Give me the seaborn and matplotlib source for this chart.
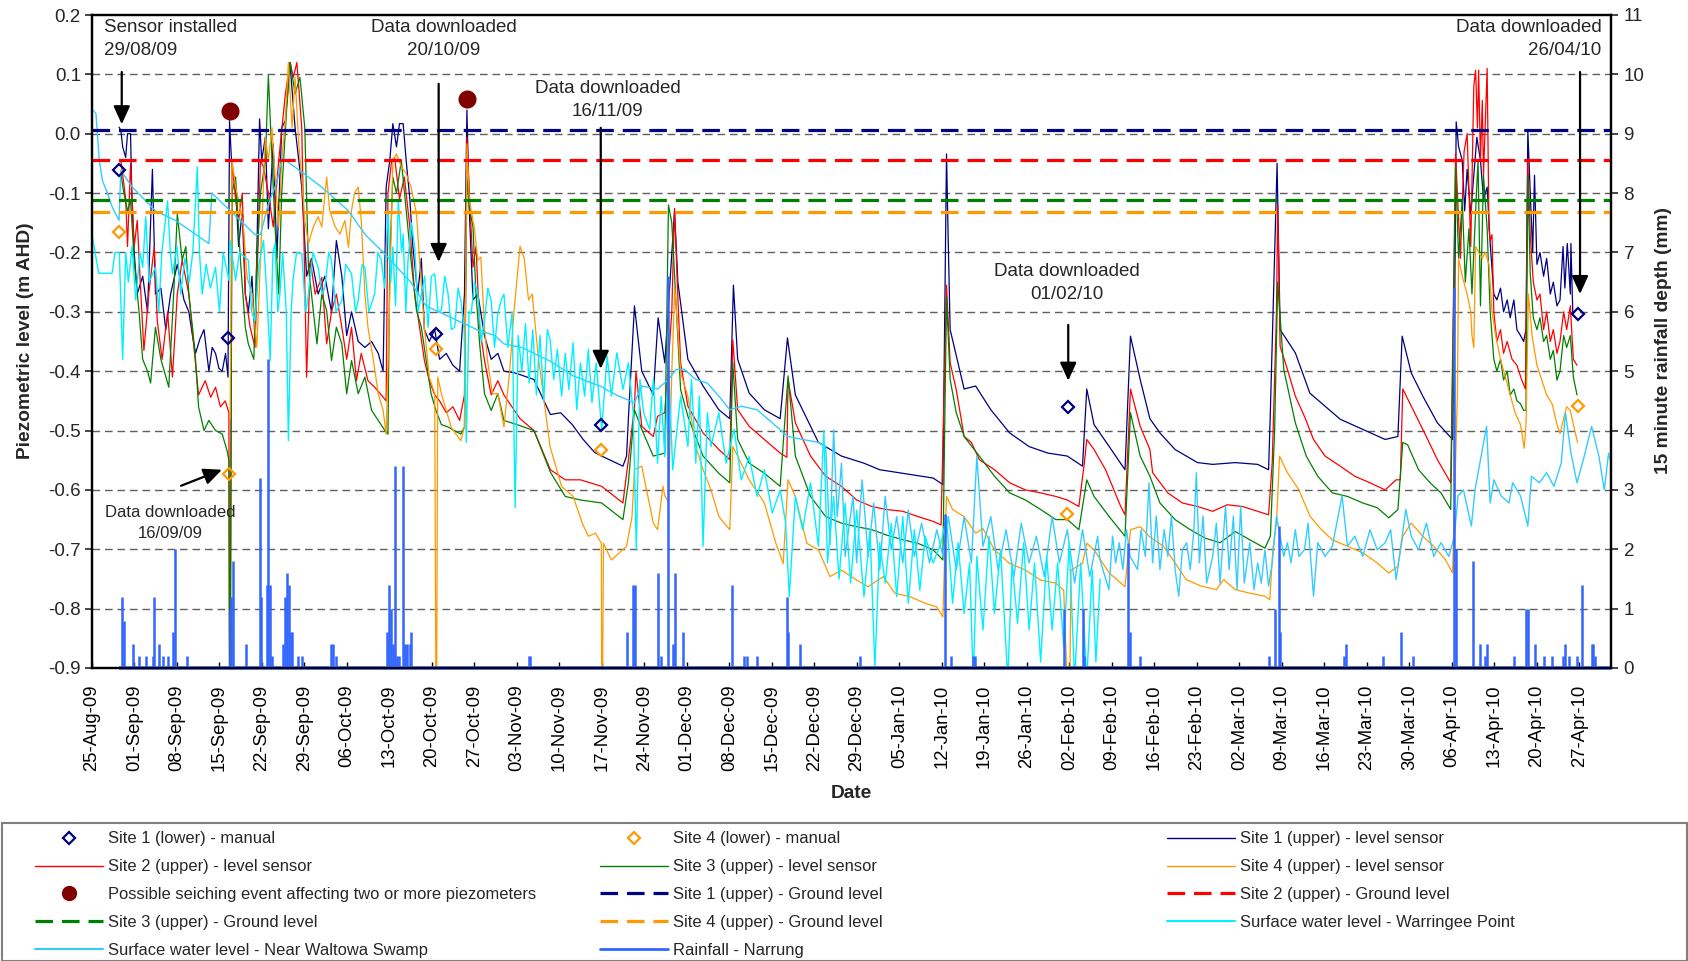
import numpy as np
import pandas as pd
import matplotlib
matplotlib.use("Agg")
import matplotlib.pyplot as plt
import matplotlib.dates as mdates
from matplotlib.lines import Line2D
from matplotlib.patches import Rectangle
import seaborn as sns

# ---------------- data (day offsets from 25-Aug-2009, level in m AHD) ----------------
START = "2009-08-25"

site1_upper = [(4.45,0.011),(4.75,0.006),(5.05,-0.022),(5.55,-0.04),(5.85,0.0),(6.35,0.0),(6.55,-0.1),(6.95,-0.2),(7.45,-0.27),(8.35,-0.24),(9.15,-0.30),(9.95,-0.06),(10.45,-0.27),(11.35,-0.26),(12.15,-0.33),(12.95,-0.27),(14.05,-0.22),(15.15,-0.28),(15.95,-0.30),(16.55,-0.34),(17.05,-0.37),(17.8,-0.345),(18.45,-0.33),(19.25,-0.40),(19.8,-0.36),(20.35,-0.37),(20.9,-0.395),(21.45,-0.40),(22.0,-0.37),(22.4,-0.41),(22.65,0.022),(23.0,-0.05),(23.65,-0.09),(24.15,-0.19),(24.75,-0.13),(25.25,-0.27),(25.75,-0.30),(26.35,-0.24),(26.85,-0.35),(27.6,0.025),(27.95,-0.045),(28.55,-0.006),(29.05,-0.16),(29.85,-0.017),(30.45,-0.21),(31.25,0.01),(31.85,0.022),(32.6,0.12),(33.45,0.01),(34.55,-0.09),(35.35,-0.24),(36.15,-0.21),(37.25,-0.27),(38.35,-0.24),(39.45,-0.30),(40.25,-0.18),(41.15,-0.24),(41.95,-0.34),(42.75,-0.30),(43.85,-0.35),(44.95,-0.36),(46.05,-0.35),(47.15,-0.37),(47.95,-0.40),(48.45,-0.09),(49.05,-0.045),(49.55,0.017),(50.15,-0.022),(50.65,0.017),(51.25,0.017),(51.75,-0.045),(52.35,-0.11),(52.85,-0.19),(53.65,-0.27),(54.25,-0.21),(54.75,-0.33),(55.55,-0.35),(56.45,-0.33),(57.25,-0.38),(58.35,-0.37),(59.45,-0.39),(60.55,-0.40),(61.35,-0.27),(61.75,0.04),(62.15,-0.13),(62.75,-0.28),(63.55,-0.27),(64.65,-0.34),(65.75,-0.38),(66.85,-0.37),(67.85,-0.40),(69.7,-0.403),(72.8,-0.414),(75.5,-0.473),(77.2,-0.47),(79.1,-0.49),(80.9,-0.515),(82.8,-0.537),(83.95,-0.543),(87.45,-0.56),(88.05,-0.543),(88.35,-0.48),(89.35,-0.29),(90.55,-0.40),(92.45,-0.44),(93.25,-0.31),(94.35,-0.386),(95.5,-0.2),(95.95,-0.13),(96.5,-0.25),(98.15,-0.38),(100.65,-0.425),(103.25,-0.465),(105.05,-0.48),(105.65,-0.255),(106.35,-0.38),(108.25,-0.437),(110.75,-0.465),(113.35,-0.48),(114.55,-0.344),(115.85,-0.44),(119.65,-0.52),(123.45,-0.543),(127.15,-0.555),(129.75,-0.566),(133.55,-0.572),(138.55,-0.58),(140.15,-0.591),(140.75,-0.034),(141.05,-0.19),(141.35,-0.33),(143.65,-0.43),(145.55,-0.425),(148.05,-0.465),(151.15,-0.504),(154.35,-0.527),(157.45,-0.538),(160.65,-0.543),(163.15,-0.56),(163.85,-0.43),(165.05,-0.49),(167.55,-0.527),(170.15,-0.566),(171.05,-0.341),(172.65,-0.414),(174.25,-0.48),(175.9,-0.504),(178.4,-0.532),(182.1,-0.554),(184.6,-0.557),(188.3,-0.554),(192.0,-0.557),(193.8,-0.566),(194.1,-0.465),(195.2,-0.05),(195.7,-0.33),(198.2,-0.369),(200.6,-0.437),(203.1,-0.459),(205.6,-0.481),(209.3,-0.498),(213.0,-0.515),(215.1,-0.51),(215.8,-0.341),(217.3,-0.403),(219.2,-0.442),(221.6,-0.487),(224.1,-0.515),(224.4,-0.36),(224.7,0.02),(225.1,-0.022),(225.7,-0.045),(226.1,-0.13),(226.5,-0.06),(227.1,-0.135),(227.6,-0.07),(228.1,-0.006),(228.7,-0.045),(229.2,-0.11),(229.8,-0.09),(230.3,-0.185),(230.9,-0.27),(231.4,-0.28),(232.0,-0.26),(232.5,-0.30),(233.1,-0.28),(233.6,-0.31),(234.2,-0.28),(234.7,-0.33),(235.3,-0.34),(235.8,-0.35),(236.2,-0.33),(236.5,0.006),(236.9,-0.10),(237.3,-0.20),(237.6,-0.07),(238.0,-0.22),(238.5,-0.20),(239.1,-0.24),(239.6,-0.21),(240.2,-0.27),(240.7,-0.25),(241.3,-0.29),(241.8,-0.28),(242.3,-0.19),(242.6,-0.26),(243.0,-0.185),(243.5,-0.27),(243.6,-0.185),(243.9,-0.30)]

site2_upper = [(4.75,-0.045),(5.55,-0.11),(5.85,-0.19),(6.35,-0.05),(6.95,-0.19),(7.45,-0.146),(8.05,-0.27),(8.55,-0.365),(9.35,-0.27),(10.25,-0.19),(10.75,-0.315),(11.55,-0.38),(12.45,-0.30),(13.25,-0.41),(14.05,-0.27),(14.85,-0.213),(15.95,-0.27),(16.75,-0.355),(17.55,-0.44),(18.65,-0.416),(19.55,-0.444),(20.35,-0.427),(21.15,-0.46),(21.95,-0.45),(22.55,-0.47),(22.67,-1.0),(22.75,-1.0),(23.05,-0.045),(23.65,-0.11),(24.15,-0.146),(24.75,-0.10),(25.25,-0.27),(26.05,-0.326),(26.85,-0.36),(27.75,-0.045),(28.25,-0.056),(29.05,-0.10),(29.85,-0.157),(30.75,-0.045),(31.85,0.067),(32.65,0.12),(33.15,0.095),(33.75,0.12),(34.55,0.01),(35.35,-0.41),(35.95,-0.213),(36.75,-0.27),(37.85,-0.242),(38.65,-0.354),(39.45,-0.30),(40.25,-0.27),(41.15,-0.326),(41.95,-0.38),(42.75,-0.326),(43.55,-0.416),(44.35,-0.37),(45.45,-0.416),(46.55,-0.427),(47.65,-0.44),(48.45,-0.45),(48.75,-0.1),(49.35,-0.045),(49.85,-0.04),(50.65,-0.11),(51.45,-0.073),(52.35,-0.157),(53.15,-0.27),(53.95,-0.326),(54.75,-0.382),(55.55,-0.416),(56.45,-0.44),(57.25,-0.45),(58.35,-0.47),(59.45,-0.46),(60.55,-0.483),(61.35,-0.44),(61.75,-0.006),(62.15,-0.1),(62.75,-0.225),(63.25,-0.19),(63.85,-0.326),(64.65,-0.382),(65.75,-0.44),(66.85,-0.416),(67.85,-0.44),(70.5,-0.48),(72.8,-0.50),(75.5,-0.566),(77.95,-0.583),(80.45,-0.583),(83.95,-0.594),(87.45,-0.622),(88.35,-0.549),(89.35,-0.459),(89.6,-0.40),(90.55,-0.493),(92.45,-0.51),(93.15,-0.476),(94.35,-0.47),(95.5,-0.3),(95.95,-0.126),(96.4,-0.25),(96.95,-0.386),(98.15,-0.459),(100.65,-0.504),(103.25,-0.532),(105.05,-0.549),(105.55,-0.347),(106.35,-0.465),(108.25,-0.493),(110.75,-0.515),(113.35,-0.538),(114.45,-0.545),(114.65,-0.414),(115.85,-0.487),(118.35,-0.543),(120.85,-0.577),(123.45,-0.594),(125.95,-0.617),(128.45,-0.628),(130.85,-0.633),(133.55,-0.636),(136.05,-0.645),(138.55,-0.653),(139.85,-0.659),(140.75,-0.255),(141.35,-0.386),(142.35,-0.431),(143.65,-0.51),(144.85,-0.52),(146.15,-0.549),(148.65,-0.566),(151.15,-0.588),(153.75,-0.6),(156.25,-0.605),(158.75,-0.611),(160.65,-0.617),(162.55,-0.628),(163.45,-0.555),(163.85,-0.515),(165.05,-0.532),(166.95,-0.566),(169.45,-0.628),(170.15,-0.642),(171.05,-0.43),(172.65,-0.493),(174.25,-0.532),(174.7,-0.571),(177.2,-0.605),(179.6,-0.622),(182.1,-0.628),(184.6,-0.636),(187.0,-0.625),(189.5,-0.628),(192.0,-0.636),(193.8,-0.642),(194.4,-0.554),(195.1,-0.3),(195.3,-0.12),(195.7,-0.358),(196.9,-0.397),(198.2,-0.442),(199.7,-0.476),(201.2,-0.515),(203.1,-0.543),(205.6,-0.56),(208.0,-0.577),(210.5,-0.588),(213.0,-0.6),(214.8,-0.583),(215.5,-0.583),(215.9,-0.43),(217.3,-0.459),(219.2,-0.498),(221.6,-0.549),(223.8,-0.588),(224.6,-0.034),(225.4,-0.21),(226.0,-0.03),(226.5,0.0),(227.1,-0.19),(227.6,0.08),(227.9,0.107),(228.2,0.01),(228.4,0.107),(228.7,-0.045),(229.0,0.056),(229.2,-0.07),(229.8,0.11),(230.1,-0.16),(230.3,-0.18),(230.6,-0.17),(230.9,-0.30),(231.4,-0.35),(232.0,-0.33),(232.5,-0.37),(233.1,-0.35),(233.9,-0.38),(234.7,-0.39),(235.5,-0.415),(236.1,-0.43),(236.5,-0.045),(236.9,-0.17),(237.4,-0.25),(238.0,-0.28),(238.5,-0.27),(239.1,-0.33),(239.6,-0.30),(240.2,-0.35),(240.7,-0.33),(241.3,-0.37),(241.8,-0.35),(242.4,-0.30),(242.9,-0.33),(243.5,-0.29),(244.0,-0.38),(244.6,-0.39)]

site3_upper = [(4.75,-0.067),(5.25,-0.1),(5.85,-0.13),(6.35,-0.112),(6.95,-0.213),(7.75,-0.30),(8.35,-0.38),(9.15,-0.40),(9.65,-0.42),(10.45,-0.326),(11.35,-0.38),(12.65,-0.427),(13.45,-0.27),(14.05,-0.135),(14.85,-0.213),(15.45,-0.19),(15.95,-0.27),(16.55,-0.326),(17.05,-0.38),(17.55,-0.46),(18.45,-0.5),(19.25,-0.483),(20.35,-0.5),(21.45,-0.506),(22.25,-0.534),(22.55,-0.55),(22.67,-1.0),(22.75,-1.0),(23.05,-0.1),(23.65,-0.073),(24.45,-0.213),(25.25,-0.326),(25.75,-0.354),(26.65,-0.38),(27.15,-0.213),(27.75,-0.1),(28.55,-0.045),(29.05,0.098),(29.65,-0.045),(30.15,-0.157),(30.75,-0.27),(31.25,-0.1),(32.05,0.04),(32.65,0.12),(33.45,0.067),(34.25,0.095),(35.05,0.01),(35.65,-0.225),(36.15,-0.27),(37.05,-0.354),(37.85,-0.27),(38.65,-0.298),(39.45,-0.382),(40.25,-0.326),(41.15,-0.354),(41.95,-0.438),(42.75,-0.382),(43.85,-0.438),(44.95,-0.41),(46.05,-0.466),(47.15,-0.483),(48.25,-0.5),(48.75,-0.506),(49.05,-0.213),(49.55,-0.073),(50.15,-0.1),(50.95,-0.045),(51.75,-0.129),(52.55,-0.213),(53.45,-0.298),(54.25,-0.326),(55.05,-0.382),(55.85,-0.438),(56.65,-0.466),(57.55,-0.49),(58.65,-0.494),(59.65,-0.5),(60.75,-0.506),(61.35,-0.494),(61.75,-0.073),(62.15,-0.124),(62.75,-0.157),(63.25,-0.27),(63.85,-0.354),(64.65,-0.438),(65.75,-0.466),(66.85,-0.438),(67.85,-0.483),(70.0,-0.49),(72.8,-0.5),(75.5,-0.57),(77.95,-0.611),(80.45,-0.617),(83.95,-0.622),(87.45,-0.65),(88.35,-0.588),(89.35,-0.465),(90.55,-0.498),(92.45,-0.543),(94.35,-0.538),(94.95,-0.12),(95.5,-0.15),(96.95,-0.431),(98.15,-0.476),(100.65,-0.543),(103.25,-0.572),(105.05,-0.588),(105.55,-0.386),(106.35,-0.515),(108.25,-0.555),(110.75,-0.572),(113.35,-0.594),(114.65,-0.408),(115.85,-0.543),(118.35,-0.611),(120.85,-0.645),(123.45,-0.656),(125.95,-0.662),(128.45,-0.667),(130.85,-0.676),(133.55,-0.684),(136.05,-0.69),(138.55,-0.701),(140.15,-0.718),(140.75,-0.274),(141.35,-0.414),(142.35,-0.47),(143.65,-0.51),(146.15,-0.543),(148.65,-0.577),(151.15,-0.605),(153.75,-0.617),(156.25,-0.633),(158.75,-0.65),(160.65,-0.65),(162.55,-0.667),(163.85,-0.583),(165.05,-0.611),(167.55,-0.645),(170.15,-0.678),(171.05,-0.47),(172.65,-0.543),(174.25,-0.577),(175.9,-0.622),(178.4,-0.65),(180.9,-0.667),(183.3,-0.681),(185.8,-0.689),(188.3,-0.67),(190.7,-0.684),(193.2,-0.698),(194.1,-0.678),(194.8,-0.498),(195.3,-0.25),(196.3,-0.397),(198.2,-0.487),(200.0,-0.543),(201.9,-0.577),(204.3,-0.605),(206.8,-0.611),(209.3,-0.622),(211.7,-0.63),(213.6,-0.647),(215.1,-0.633),(215.9,-0.52),(216.7,-0.524),(218.5,-0.566),(220.4,-0.588),(222.2,-0.605),(223.8,-0.633),(224.6,-0.056),(225.1,-0.21),(225.7,-0.11),(226.2,-0.25),(226.8,-0.16),(227.3,-0.27),(227.9,-0.13),(228.3,-0.045),(228.7,-0.29),(229.2,-0.07),(229.8,-0.16),(230.3,-0.30),(230.9,-0.38),(231.4,-0.40),(232.0,-0.38),(232.5,-0.415),(233.1,-0.40),(233.6,-0.44),(234.2,-0.43),(234.7,-0.45),(235.3,-0.455),(235.8,-0.466),(236.2,-0.466),(236.5,-0.07),(236.9,-0.236),(237.4,-0.31),(238.0,-0.33),(238.5,-0.31),(239.1,-0.35),(239.6,-0.34),(240.2,-0.38),(240.7,-0.365),(241.3,-0.415),(241.8,-0.40),(242.4,-0.34),(242.9,-0.36),(243.5,-0.34),(244.0,-0.41),(244.6,-0.44)]

site4_upper = [(22.75,-0.48),(23.05,-0.045),(23.65,-0.09),(24.15,-0.112),(24.95,-0.157),(25.55,-0.242),(26.35,-0.27),(27.15,-0.36),(27.75,-0.213),(28.55,-0.006),(29.05,-0.045),(29.65,0.01),(30.15,-0.073),(30.75,-0.157),(31.25,-0.045),(31.85,0.022),(32.35,0.12),(32.95,0.01),(33.45,0.095),(34.05,-0.017),(34.55,-0.073),(35.05,-0.146),(35.65,-0.185),(36.45,-0.157),(37.25,-0.14),(37.85,-0.157),(38.65,-0.073),(39.15,-0.129),(40.05,-0.157),(40.85,-0.169),(41.65,-0.146),(42.25,-0.191),(42.75,-0.129),(43.25,-0.1),(43.85,-0.09),(44.35,-0.146),(44.95,-0.27),(45.45,-0.326),(46.35,-0.382),(47.15,-0.438),(47.95,-0.466),(48.45,-0.506),(49.05,-0.27),(49.55,-0.045),(50.15,-0.034),(50.95,-0.056),(51.75,-0.067),(52.55,-0.09),(53.45,-0.135),(53.95,-0.213),(54.75,-0.326),(55.55,-0.41),(56.45,-0.438),(56.67,-1.0),(56.75,-1.0),(56.95,-0.41),(57.55,-0.438),(58.35,-0.466),(59.15,-0.494),(59.95,-0.506),(60.75,-0.517),(61.35,-0.494),(61.75,-0.017),(62.15,-0.112),(62.95,-0.157),(63.55,-0.213),(64.05,-0.208),(64.65,-0.326),(65.15,-0.382),(65.95,-0.438),(66.85,-0.438),(67.85,-0.494),(68.8,-0.40),(69.5,-0.30),(70.5,-0.19),(71.2,-0.21),(71.9,-0.28),(72.5,-0.27),(73.5,-0.375),(75.45,-0.527),(77.35,-0.594),(79.25,-0.611),(80.75,-0.656),(81.75,-0.678),(82.95,-0.673),(83.9,-0.69),(83.97,-1.0),(84.05,-1.0),(84.25,-0.69),(85.55,-0.718),(86.75,-0.707),(88.05,-0.695),(88.95,-0.645),(89.35,-0.566),(90.55,-0.56),(92.45,-0.656),(93.15,-0.667),(94.05,-0.594),(94.35,-0.61),(94.95,-0.62),(95.5,-0.40),(96.0,-0.26),(96.5,-0.33),(96.95,-0.403),(98.15,-0.442),(99.45,-0.527),(100.65,-0.566),(101.95,-0.6),(103.25,-0.645),(105.05,-0.667),(105.55,-0.527),(106.35,-0.543),(108.25,-0.583),(110.75,-0.622),(112.65,-0.69),(113.85,-0.724),(114.65,-0.583),(115.85,-0.611),(117.75,-0.69),(119.65,-0.701),(121.55,-0.746),(123.45,-0.735),(125.95,-0.752),(127.85,-0.763),(130.35,-0.746),(132.25,-0.774),(134.75,-0.78),(137.25,-0.791),(139.15,-0.797),(140.15,-0.814),(140.75,-0.611),(141.75,-0.633),(143.65,-0.645),(145.55,-0.673),(146.75,-0.665),(148.65,-0.701),(151.15,-0.724),(153.75,-0.735),(156.25,-0.752),(158.75,-0.757),(160.05,-0.769),(160.9,-1.0),(161.0,-1.0),(161.25,-0.735),(163.15,-0.724),(163.85,-0.69),(165.05,-0.701),(167.55,-0.74),(170.15,-0.763),(171.05,-0.667),(172.65,-0.662),(174.1,-0.678),(176.5,-0.695),(178.4,-0.723),(180.2,-0.751),(182.7,-0.762),(185.2,-0.768),(186.4,-0.751),(188.3,-0.768),(190.7,-0.774),(193.2,-0.779),(194.0,-0.785),(194.5,-0.70),(195.1,-0.656),(195.6,-0.543),(196.9,-0.571),(198.8,-0.6),(200.6,-0.644),(202.5,-0.667),(204.3,-0.684),(206.8,-0.695),(209.3,-0.706),(211.7,-0.723),(213.6,-0.74),(215.1,-0.729),(215.9,-0.678),(217.3,-0.656),(219.2,-0.678),(221.0,-0.695),(222.9,-0.717),(224.1,-0.74),(224.9,-0.44),(225.1,-0.21),(225.7,-0.24),(226.5,-0.27),(227.1,-0.30),(227.3,-0.34),(227.6,-0.36),(227.9,-0.19),(228.4,-0.20),(229.0,-0.21),(229.5,-0.20),(230.1,-0.22),(230.6,-0.30),(231.2,-0.34),(232.0,-0.38),(232.8,-0.41),(233.6,-0.44),(234.4,-0.47),(235.3,-0.49),(235.9,-0.53),(236.2,-0.49),(236.6,-0.27),(237.2,-0.34),(238.0,-0.39),(238.8,-0.415),(239.6,-0.44),(240.5,-0.455),(241.3,-0.49),(241.8,-0.505),(242.4,-0.48),(242.9,-0.46),(243.5,-0.466),(244.0,-0.49),(244.7,-0.52)]

waltowa_swamp = [(0.0,0.042),(0.65,0.034),(1.2,-0.045),(1.75,-0.08),(2.55,-0.1),(3.35,-0.124),(4.45,-0.146),(4.75,-0.062),(6.65,-0.09),(10.45,-0.13),(13.75,-0.146),(19.25,-0.185),(19.75,-0.1),(26.85,-0.17),(27.75,-0.17),(29.0,-0.12),(30.5,-0.08),(31.3,-0.04),(37.85,-0.09),(42.25,-0.13),(45.0,-0.17),(48.0,-0.2),(52.5,-0.25),(55.0,-0.29),(63.4,-0.33),(66.35,-0.34),(67.85,-0.354),(70.75,-0.36),(75.45,-0.383),(79.25,-0.408),(83.65,-0.425),(86.75,-0.442),(89.35,-0.453),(90.55,-0.425),(93.15,-0.43),(94.95,-0.414),(96.25,-0.397),(97.55,-0.397),(99.45,-0.414),(101.35,-0.42),(103.25,-0.442),(105.05,-0.465),(106.95,-0.459),(109.55,-0.465),(112.05,-0.487),(114.65,-0.51),(117.05,-0.515),(119.65,-0.52),(120.85,-0.527),(121.55,-0.693),(122.15,-0.499),(122.75,-0.645),(123.45,-0.555),(124.05,-0.712),(125.35,-0.611),(125.95,-0.723),(126.85,-0.583),(127.85,-0.712),(128.75,-0.622),(129.75,-0.735),(130.65,-0.611),(131.65,-0.701),(132.55,-0.645),(133.55,-0.723),(134.45,-0.634),(135.45,-0.712),(136.65,-0.656),(137.95,-0.723),(139.15,-0.667),(140.15,-0.712),(141.05,-0.645),(142.35,-0.735),(143.65,-0.645),(144.85,-0.723),(145.75,-0.543),(146.75,-0.695),(148.05,-0.645),(149.25,-0.735),(150.55,-0.667),(151.85,-0.746),(153.05,-0.656),(154.35,-0.723),(155.55,-0.678),(156.85,-0.746),(158.15,-0.645),(159.35,-0.723),(160.65,-0.667),(161.85,-0.757),(163.15,-0.667),(164.35,-0.746),(165.65,-0.678),(166.0,-0.717),(167.5,-0.768),(168.1,-0.678),(168.6,-0.723),(169.2,-0.689),(169.8,-0.734),(170.4,-0.667),(171.0,-0.712),(172.2,-0.734),(172.8,-0.667),(173.5,-0.712),(174.1,-0.588),(174.7,-0.723),(175.3,-0.644),(175.9,-0.734),(176.6,-0.667),(177.2,-0.712),(177.8,-0.644),(178.4,-0.734),(179.0,-0.779),(179.6,-0.701),(180.3,-0.689),(180.9,-0.734),(181.5,-0.667),(181.9,-0.571),(182.4,-0.723),(183.0,-0.644),(183.6,-0.757),(184.6,-0.712),(185.2,-0.656),(185.8,-0.757),(186.7,-0.628),(187.3,-0.734),(188.0,-0.644),(188.6,-0.768),(189.2,-0.628),(189.8,-0.757),(190.7,-0.689),(191.4,-0.768),(192.0,-0.723),(192.6,-0.757),(193.2,-0.701),(193.8,-0.762),(194.4,-0.723),(195.1,-0.644),(195.7,-0.678),(196.3,-0.712),(196.9,-0.689),(197.5,-0.723),(198.2,-0.667),(198.8,-0.712),(199.7,-0.701),(200.3,-0.656),(201.2,-0.779),(201.9,-0.689),(203.1,-0.712),(204.3,-0.695),(205.9,-0.61),(206.8,-0.695),(208.0,-0.678),(209.3,-0.712),(210.5,-0.667),(211.7,-0.701),(213.0,-0.689),(213.9,-0.667),(214.8,-0.751),(215.5,-0.701),(216.4,-0.633),(217.3,-0.678),(218.5,-0.701),(219.8,-0.656),(221.0,-0.712),(222.2,-0.689),(223.5,-0.712),(224.4,-0.678),(225.0,-0.61),(225.9,-0.6),(227.2,-0.661),(227.8,-0.6),(229.0,-0.532),(229.7,-0.493),(230.3,-0.622),(230.9,-0.583),(232.1,-0.61),(233.4,-0.622),(234.0,-0.588),(235.3,-0.61),(236.5,-0.661),(237.1,-0.577),(238.4,-0.588),(239.6,-0.571),(240.8,-0.594),(242.0,-0.555),(242.7,-0.47),(243.6,-0.538),(244.6,-0.588),(245.8,-0.543),(247.0,-0.493),(248.2,-0.543),(249.1,-0.6),(249.8,-0.538),(250.5,-0.566)]

warringee_point = [(0.0,-0.17),(1.1,-0.235),(3.3,-0.235),(3.8,-0.2),(4.5,-0.2),(5.05,-0.38),(5.55,-0.2),(6.0,-0.25),(6.6,-0.19),(7.2,-0.28),(7.9,-0.2),(8.35,-0.225),(8.85,-0.14),(9.4,-0.25),(10.45,-0.225),(11.0,-0.3),(11.5,-0.2),(12.45,-0.113),(12.9,-0.2),(13.25,-0.236),(14.0,-0.19),(14.6,-0.27),(15.3,-0.21),(16.0,-0.25),(16.6,-0.2),(17.35,-0.056),(17.7,-0.2),(18.15,-0.27),(18.8,-0.22),(19.5,-0.26),(20.35,-0.225),(21.0,-0.3),(21.6,-0.2),(22.55,-0.247),(22.75,-0.18),(23.65,-0.247),(24.3,-0.2),(25.75,-0.213),(26.3,-0.3),(26.85,-0.315),(27.5,-0.22),(28.25,-0.18),(28.8,-0.27),(29.35,-0.382),(29.8,-0.2),(30.15,-0.185),(30.6,-0.3),(30.95,-0.27),(31.4,-0.2),(32.0,-0.3),(32.35,-0.517),(32.8,-0.3),(33.15,-0.242),(33.7,-0.2),(34.55,-0.202),(35.2,-0.3),(35.65,-0.27),(36.4,-0.2),(37.25,-0.225),(37.9,-0.27),(38.35,-0.259),(39.0,-0.2),(39.45,-0.213),(40.2,-0.3),(41.15,-0.281),(41.8,-0.22),(42.75,-0.236),(43.4,-0.3),(43.85,-0.281),(44.5,-0.22),(44.95,-0.225),(45.6,-0.3),(46.55,-0.27),(47.1,-0.2),(47.65,-0.213),(48.2,-0.26),(48.75,-0.13),(49.2,-0.25),(49.55,-0.191),(50.0,-0.29),(50.45,-0.112),(51.0,-0.2),(51.25,-0.169),(51.7,-0.3),(52.05,-0.213),(52.6,-0.15),(53.15,-0.191),(53.7,-0.3),(54.25,-0.27),(54.8,-0.24),(55.35,-0.326),(55.9,-0.24),(56.45,-0.236),(57.0,-0.3),(57.55,-0.298),(58.1,-0.24),(58.65,-0.27),(59.2,-0.33),(59.75,-0.326),(60.3,-0.26),(60.75,-0.281),(61.3,-0.33),(61.65,-0.52),(62.1,-0.3),(62.45,-0.303),(63.0,-0.25),(63.55,-0.27),(64.1,-0.35),(64.65,-0.315),(65.2,-0.26),(65.75,-0.281),(66.3,-0.36),(66.85,-0.303),(67.4,-0.28),(67.85,-0.27),(68.5,-0.36),(69.2,-0.30),(69.7,-0.63),(70.2,-0.34),(70.8,-0.40),(71.4,-0.32),(72.0,-0.42),(72.6,-0.33),(73.2,-0.44),(73.8,-0.34),(74.4,-0.45),(75.0,-0.33),(75.45,-0.347),(76.05,-0.414),(76.65,-0.363),(77.35,-0.442),(77.95,-0.37),(78.55,-0.431),(79.25,-0.352),(79.85,-0.465),(80.45,-0.386),(81.15,-0.442),(81.75,-0.363),(82.35,-0.453),(83.05,-0.386),(83.95,-0.498),(84.85,-0.375),(85.55,-0.442),(86.45,-0.369),(87.45,-0.431),(88.35,-0.386),(89.15,-0.47),(89.65,-0.70),(90.25,-0.414),(90.85,-0.47),(91.85,-0.498),(92.45,-0.414),(93.15,-0.555),(93.75,-0.442),(94.35,-0.544),(94.95,-0.386),(95.65,-0.566),(96.95,-0.442),(98.15,-0.527),(98.75,-0.414),(99.45,-0.555),(100.05,-0.442),(100.65,-0.695),(101.35,-0.47),(101.95,-0.527),(103.25,-0.47),(104.45,-0.555),(105.75,-0.498),(106.95,-0.583),(108.25,-0.544),(109.55,-0.611),(110.75,-0.566),(112.05,-0.639),(113.35,-0.6),(114.25,-0.656),(114.85,-0.78),(115.85,-0.611),(117.05,-0.667),(118.35,-0.588),(119.65,-0.695),(120.55,-0.5),(121.15,-0.723),(122.15,-0.611),(123.05,-0.75),(124.05,-0.622),(124.95,-0.757),(125.95,-0.634),(127.15,-0.78),(128.15,-0.667),(128.95,-0.90),(129.75,-0.689),(130.65,-0.757),(131.65,-0.656),(132.55,-0.78),(133.55,-0.645),(134.45,-0.791),(135.45,-0.667),(136.35,-0.769),(137.25,-0.678),(138.55,-0.723),(139.85,-0.689),(140.75,-0.645),(141.75,-0.791),(142.65,-0.689),(143.65,-0.808),(144.55,-0.723),(145.15,-0.92),(145.75,-0.712),(146.75,-0.836),(147.75,-0.678),(148.65,-0.808),(149.65,-0.701),(150.85,-0.92),(151.55,-0.723),(152.45,-0.825),(153.45,-0.689),(154.35,-0.836),(155.25,-0.723),(156.25,-0.89),(157.25,-0.712),(158.15,-0.836),(159.05,-0.723),(160.05,-0.864),(160.95,-0.689),(161.85,-0.92),(162.85,-0.723),(163.85,-0.92),(164.75,-0.734),(165.35,-0.89),(166.05,-0.75)]

rainfall_narrung = [(4.9,1.2),(5.3,0.8),(6.7,0.4),(7.8,0.2),(8.9,0.2),(10.0,0.2),(10.2,1.2),(11.0,0.4),(11.7,0.2),(12.5,0.2),(13.3,0.6),(13.6,2.0),(15.7,0.2),(22.7,1.0),(22.9,1.2),(23.3,1.8),(25.3,0.4),(27.7,3.2),(27.9,1.2),(28.8,1.4),(29.0,5.2),(29.3,1.4),(29.6,0.2),(31.5,0.4),(31.8,1.2),(32.2,1.6),(32.5,1.4),(32.7,0.6),(33.0,0.6),(34.0,0.2),(34.6,0.2),(39.3,0.4),(39.7,0.4),(40.2,0.2),(48.6,0.6),(49.0,1.4),(49.2,1.0),(49.5,0.4),(49.9,3.4),(50.2,0.2),(50.6,0.2),(51.2,3.4),(51.5,0.4),(51.9,0.4),(52.3,0.4),(52.6,0.6),(71.9,0.2),(72.2,0.2),(88.05,0.6),(89.15,1.4),(89.45,1.4),(93.15,1.6),(93.75,0.2),(94.85,6.6),(95.75,0.4),(95.95,1.6),(97.35,0.6),(105.45,1.4),(107.45,0.2),(107.95,0.2),(109.55,0.2),(114.45,1.2),(114.65,0.6),(116.55,0.4),(126.55,0.2),(140.45,2.6),(141.55,0.2),(145.15,0.2),(145.45,0.2),(160.05,1.0),(163.15,1.0),(163.45,0.2),(170.7,2.1),(170.9,0.6),(172.7,0.2),(193.8,0.2),(194.8,1.0),(195.5,2.4),(195.7,0.6),(206.2,0.2),(206.5,0.4),(212.7,0.2),(215.6,0.6),(217.6,0.2),(224.4,6.4),(224.6,2.0),(227.5,1.8),(228.7,0.4),(229.4,0.2),(229.7,0.4),(234.3,0.2),(236.2,1.0),(236.5,1.0),(237.6,0.4),(239.2,0.2),(240.5,0.2),(242.3,0.2),(242.6,0.4),(243.2,0.2),(244.6,0.2),(245.4,1.4),(247.0,0.4),(247.3,0.4),(247.6,0.2)]
rainfall_span = [4.5, 250.2]

site1_manual = [(4.5,-0.061),(22.4,-0.344),(56.7,-0.338),(83.8,-0.49),(160.8,-0.461),(244.8,-0.304)]
site4_manual = [(4.5,-0.166),(22.6,-0.574),(56.7,-0.362),(83.8,-0.532),(160.6,-0.641),(244.8,-0.458)]
seiching_events = [(22.75,0.039),(61.75,0.059)]

ground_names = ["Site 1 (upper) - Ground level", "Site 2 (upper) - Ground level",
                "Site 3 (upper) - Ground level", "Site 4 (upper) - Ground level"]
ground_levels = [0.007, -0.045, -0.111, -0.132]

y_ticks = [0.2, 0.1, 0.0, -0.1, -0.2, -0.3, -0.4, -0.5, -0.6, -0.7, -0.8, -0.9]
rain_ticks = list(range(0, 12))

# ---------------- styling ----------------
C_S1, C_S2, C_S3, C_S4 = "#000080", "#FF0000", "#008000", "#FF9900"
C_WARR, C_WALT, C_RAIN, C_SEI = "#00F0FF", "#33CCFF", "#3366FF", "#800000"

sns.set_theme(style="white")
plt.rcParams["font.family"] = ["Liberation Sans", "DejaVu Sans"]
plt.rcParams["axes.unicode_minus"] = False

base = pd.Timestamp(START)
def dates(days):
    return base + pd.to_timedelta(np.asarray(days, dtype=float), unit="D")

def split(pairs):
    a = np.asarray(pairs, dtype=float)
    return a[:, 0], a[:, 1]

W, H = 1688, 961
fig = plt.figure(figsize=(W / 100, H / 100), dpi=100)
L, R, T, B = 92, 1611, 15, 668
ax = fig.add_axes([L / W, 1 - B / H, (R - L) / W, (B - T) / H])
ax2 = ax.twinx()

ax.set_ylim(-0.9, 0.2)
ax2.set_ylim(0, 11)
ax.set_xlim(dates([0.0])[0], dates([250.2])[0])

# grid
for yv in y_ticks[1:-1]:
    ax.axhline(yv, color="#606060", lw=1.0, ls=(0, (5.5, 3.5)), zorder=1)

# sensor lines
for pairs, col, z in [(site1_upper, C_S1, 2.2), (site2_upper, C_S2, 2.3),
                      (site3_upper, C_S3, 2.4), (site4_upper, C_S4, 2.5)]:
    d, v = split(pairs)
    sns.lineplot(x=dates(d), y=v, ax=ax, color=col, lw=0.9, sort=False,
                 estimator=None, legend=False, zorder=z)

for pairs, col, z in [(waltowa_swamp, C_WALT, 2.6), (warringee_point, C_WARR, 2.7)]:
    d, v = split(pairs)
    sns.lineplot(x=dates(d), y=v, ax=ax, color=col, lw=1.0, sort=False,
                 estimator=None, legend=False, zorder=z)

# ground levels
for lvl, col in zip(ground_levels, [C_S1, C_S2, C_S3, C_S4]):
    ax.axhline(lvl, color=col, lw=2.3, ls=(0, (5.5, 2.8)), zorder=3)

# manual readings & seiching
d, v = split(site1_manual)
ax.plot(dates(d), v, ls="none", marker="D", ms=6.5, mfc="none", mec=C_S1, mew=1.6, zorder=5)
d, v = split(site4_manual)
ax.plot(dates(d), v, ls="none", marker="D", ms=6.5, mfc="none", mec=C_S4, mew=1.6, zorder=5)
d, v = split(seiching_events)
ax.plot(dates(d), v, ls="none", marker="o", ms=12, color=C_SEI, zorder=5)

# rainfall on secondary axis
d, r = split(rainfall_narrung)
ax2.vlines(dates(d), 0, r, color=C_RAIN, lw=1.8)
ax2.plot(dates(rainfall_span), [0, 0], color=C_RAIN, lw=2.6, clip_on=False, solid_capstyle="butt")

# axes formatting
ax.set_yticks(y_ticks)
ax.yaxis.set_major_formatter(matplotlib.ticker.FormatStrFormatter("%.1f"))
ax2.set_yticks(rain_ticks)
xt = dates(np.arange(0, 246, 7))
ax.set_xticks(xt)
ax.xaxis.set_major_formatter(mdates.DateFormatter("%d-%b-%y"))
ax.tick_params(axis="x", direction="in", length=4, width=1, labelsize=13.3, pad=12,
               labelrotation=90, colors="black", bottom=True)
ax.tick_params(axis="y", direction="out", length=5, width=1.2, labelsize=13.5, pad=3, left=True)
ax2.tick_params(axis="y", direction="out", length=5, width=1.2, labelsize=13.5, pad=4, right=True)
for a in (ax, ax2):
    for s in a.spines.values():
        s.set_color("black")
        s.set_linewidth(1.6)
ax.set_xlabel("")
ax.set_ylabel("")
ax2.set_ylabel("")

fig.text(26 / W, 1 - 341 / H, "Piezometric level (m AHD)", rotation=90, ha="center",
         va="center", fontsize=13.8, fontweight="bold")
fig.text(1664 / W, 1 - 341 / H, "15 minute rainfall depth (mm)", rotation=90, ha="center",
         va="center", fontsize=13.8, fontweight="bold")
fig.text(851 / W, 1 - 793 / H, "Date", ha="center", va="center", fontsize=13.8, fontweight="bold")

# annotations
def arrow(day, y_tail, y_tip):
    x = dates([day])[0]
    ax.annotate("", xy=(x, y_tip), xytext=(x, y_tail),
                arrowprops=dict(arrowstyle="-|>,head_length=0.55,head_width=0.25",
                                color="black", lw=1.6, mutation_scale=20,
                                shrinkA=0, shrinkB=0), zorder=6)

arrow(4.9, 0.104, 0.016)
arrow(57.1, 0.084, -0.216)
arrow(83.8, 0.010, -0.396)
arrow(160.8, -0.322, -0.416)
arrow(245.1, 0.104, -0.27)
ax.annotate("", xy=(dates([21.4])[0], -0.566), xytext=(dates([14.67])[0], -0.593),
            arrowprops=dict(arrowstyle="-|>,head_length=0.55,head_width=0.25", color="black",
                            lw=1.6, mutation_scale=20, shrinkA=0, shrinkB=0), zorder=6)

fs_ann = 13.5
lsp = 1.47
ax.text(dates([2.05])[0], 0.1934, "Sensor installed\n29/08/09", ha="left", va="top",
        fontsize=fs_ann, linespacing=lsp, zorder=7)
ax.text(dates([57.9])[0], 0.1934, "Data downloaded\n20/10/09", ha="center", va="top",
        multialignment="center", fontsize=fs_ann, linespacing=lsp, zorder=7)
ax.text(dates([84.9])[0], 0.091, "Data downloaded\n16/11/09", ha="center", va="top",
        multialignment="center", fontsize=fs_ann, linespacing=lsp, zorder=7)
ax.text(dates([160.6])[0], -0.217, "Data downloaded\n01/02/10", ha="center", va="top",
        multialignment="center", fontsize=fs_ann, linespacing=lsp, zorder=7)
ax.text(dates([248.6])[0], 0.1934, "Data downloaded\n26/04/10", ha="right", va="top",
        multialignment="right", fontsize=fs_ann, linespacing=lsp, zorder=7)
ax.text(dates([12.85])[0], -0.625, "Data downloaded\n16/09/09", ha="center", va="top",
        multialignment="center", fontsize=12, linespacing=1.5, zorder=7)

# legend (three columns, row-major as in reference)
def ln(col, lw=1.0, ls="-"):
    return Line2D([], [], color=col, lw=lw, ls=ls)
def dash(col):
    return Line2D([], [], color=col, lw=2.3, ls=(0, (5.5, 2.8)))

cols = [
    [(Line2D([], [], ls="none", marker="D", ms=6, mfc="none", mec=C_S1, mew=1.6), "Site 1 (lower) - manual"),
     (ln(C_S2), "Site 2 (upper) - level sensor"),
     (Line2D([], [], ls="none", marker="o", ms=10, color=C_SEI), "Possible seiching event affecting two or more piezometers"),
     (dash(C_S3), ground_names[2]),
     (ln(C_WALT, 1.5), "Surface water level - Near Waltowa Swamp")],
    [(Line2D([], [], ls="none", marker="D", ms=6, mfc="none", mec=C_S4, mew=1.6), "Site 4 (lower) - manual"),
     (ln(C_S3), "Site 3 (upper) - level sensor"),
     (dash(C_S1), ground_names[0]),
     (dash(C_S4), ground_names[3]),
     (ln(C_RAIN, 2.0), "Rainfall - Narrung")],
    [(ln(C_S1), "Site 1 (upper) - level sensor"),
     (ln(C_S4), "Site 4 (upper) - level sensor"),
     (dash(C_S2), ground_names[1]),
     (ln(C_WARR, 1.5), "Surface water level - Warringee Point")],
]
col_x = [35, 600, 1167]
for xpix, entries in zip(col_x, cols):
    hs = [e[0] for e in entries]
    ls_ = [e[1] for e in entries]
    fig.legend(hs, ls_, loc="upper left", bbox_to_anchor=(xpix / W, 1 - 831.5 / H),
               frameon=False, borderpad=0, borderaxespad=0, handlelength=4.1,
               handletextpad=0.3, labelspacing=0.774, fontsize=11.9)

fig.patches.append(Rectangle((1.5 / W, 0), (W - 3) / W, 1 - 823 / H, transform=fig.transFigure,
                             fill=False, edgecolor="#7f7f7f", lw=1.5))

fig.savefig("out.png", dpi=100)
